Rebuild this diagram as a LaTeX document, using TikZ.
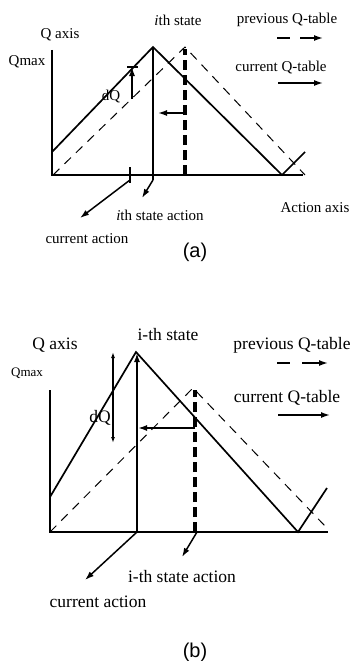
\documentclass[tikz,border=0pt]{standalone}
\usepackage{fontspec}
\setmainfont{Liberation Serif}
\newfontfamily\capfont{Liberation Sans}
\usetikzlibrary{arrows.meta,positioning}

\begin{document}
\begin{tikzpicture}[x=1pt, y=-1pt, >={Latex[length=9pt,width=6pt]},
    lbl/.style={inner sep=0pt, font=\fontsize{15}{17}\selectfont},
    lblb/.style={inner sep=0pt, font=\fontsize{17.5}{19}\selectfont},
    capt/.style={inner sep=0pt, font=\capfont\fontsize{20}{22}\selectfont},
    axis/.style={line width=1.7pt},
    qcur/.style={line width=1.7pt},
    qprev/.style={line width=1pt, dash pattern=on 9pt off 7pt},
    qact/.style={line width=3.5pt, dash pattern=on 10pt off 5pt},
    arrow/.style={line width=1.5pt,->},
    smallarrow/.style={line width=1.2pt, {Latex[length=6pt,width=4pt]}-{Latex[length=6pt,width=4pt]}}]

    \useasboundingbox (0,0) rectangle (357,661);

    % ---------- (a) ----------
    % Punkte
    \coordinate (oA) at (52,175);
    \coordinate (ytopA) at (52,50);
    \coordinate (xendA) at (303,175);
    \coordinate (pkA) at (153,47);
    \coordinate (pkdA) at (185,47);

    % Texte
    \node [lbl] (qaxisA) at (60,35) {Q axis};
    \node [lbl] (qmaxA) at (27,62) {Qmax};
    \node [lbl] (stateA) at (178,20) {\textit{i}th state};
    \node [lbl] (prevA) at (287,20) {previous Q-table};
    \node [lbl] (currA) at (281,68) {current Q-table};
    \node [lbl] (dqA) at (111,97) {dQ};
    \node [lbl] (sactA) at (160,215) {\textit{i}th state action};
    \node [lbl] (cactA) at (87,239) {current action};
    \node [lbl] (actaxA) at (315,208) {Action axis};
    \node [capt] (capA) at (195,252) {(a)};

    % Achsen
    \draw[axis] (ytopA) -- (oA) -- (xendA);
    \draw[axis] (130,167) coordinate (tkA1) -- (130,183) coordinate (tkA2);

    % Q-Tabellen
    \draw[qcur] (52,152) -- (pkA) -- (282,175) -- (305,152);
    \draw[qcur] (pkA) -- (153,180) coordinate (pkA0);
    \draw[qprev] (53,175) -- (pkdA) -- (305,175);
    \draw[qact] (185,175) coordinate (pkdA0) -- (185,49);

    % Pfeile
    \coordinate (dqA1) at (132,99);
    \coordinate (dqA2) at (132,67);
    \draw[arrow] (dqA1) -- (dqA2);
    \draw[line width=1.2pt] (127,67) -- (138,67);
    \draw[arrow] (185,113) coordinate (shA1) -- (158,113) coordinate (shA2);
    \draw[arrow] (130,180) -- (80,218) coordinate (caA);
    \draw[arrow] (153,180) -- (142,198) coordinate (saA);

    % Legende
    \draw[line width=1.5pt] (277,38) coordinate (lgA1) -- (290,38) coordinate (lgA2);
    \draw[arrow] (300,38) coordinate (lgA3) -- (323,38) coordinate (lgA4);
    \draw[arrow] (278,83) coordinate (lgA5) -- (323,83) coordinate (lgA6);

    % ---------- (b) ----------
    \coordinate (oB) at (50,532);
    \coordinate (ytopB) at (50,390);
    \coordinate (xendB) at (328,532);
    \coordinate (pkB) at (136,352);
    \coordinate (pkdB) at (193,388);

    \node [lblb] (qaxisB) at (55,345) {Q axis};
    \node [lblb, font=\fontsize{13}{15}\selectfont] (qmaxB) at (27,373) {Qmax};
    \node [lblb] (stateB) at (168,335) {i-th state};
    \node [lblb] (prevB) at (292,345) {previous Q-table};
    \node [lblb] (currB) at (287,398) {current Q-table};
    \node [lblb] (dqB) at (100,418) {dQ};
    \node [lblb] (sactB) at (182,577) {i-th state action};
    \node [lblb] (cactB) at (98,602) {current action};
    \node [capt] (capB) at (195,652) {(b)};

    \draw[axis] (ytopB) -- (oB) -- (xendB);

    \draw[qcur] (50,497) -- (pkB) -- (298,532) -- (327,488);
    \draw[qcur, ->] (137,532) coordinate (pkB0) -- (137,353);
    \draw[qprev] (oB) -- (pkdB) -- (325,526);
    \draw[qact] (195,532) coordinate (pkdB0) -- (195,390);

    \draw[smallarrow] (113,352) coordinate (dqB1) -- (113,443) coordinate (dqB2);
    \draw[qcur, ->] (195,428) coordinate (shB1) -- (138,428) coordinate (shB2);
    \draw[arrow] (pkB0) -- (85,580) coordinate (caB);
    \draw[arrow] (197,532) -- (182,557) coordinate (saB);

    \draw[line width=1.5pt] (277,363) coordinate (lgB1) -- (290,363) coordinate (lgB2);
    \draw[arrow] (302,363) coordinate (lgB3) -- (328,363) coordinate (lgB4);
    \draw[arrow] (278,415) coordinate (lgB5) -- (330,415) coordinate (lgB6);

\end{tikzpicture}
\end{document}
